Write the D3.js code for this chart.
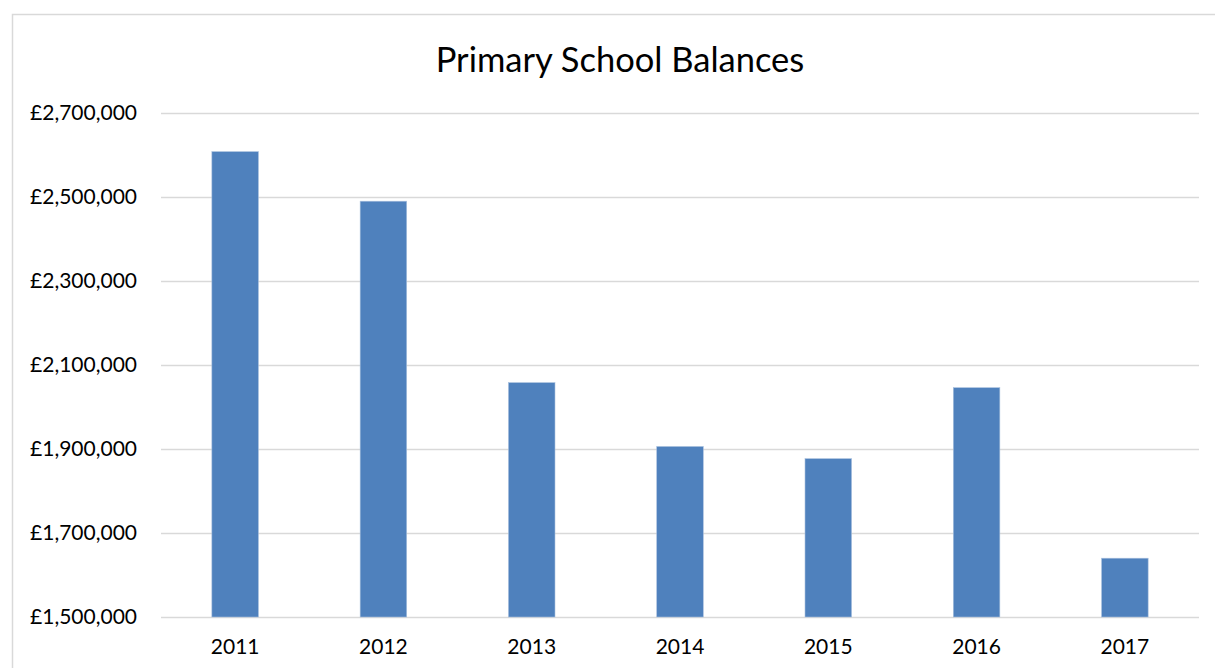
<!DOCTYPE html>
<html>
<head>
<meta charset="utf-8">
<script src="https://cdn.jsdelivr.net/npm/d3@7"></script>
<style>
  body { margin: 0; background: #fff; }
  svg { display: block; }
</style>
</head>
<body>
<svg id="chart"></svg>
<script>
// Primary School Balances
const years = ["2011", "2012", "2013", "2014", "2015", "2016", "2017"];
const balances = [2608000, 2490000, 2058000, 1906000, 1877000, 2046000, 1640000];
const yTicks = [1500000, 1700000, 1900000, 2100000, 2300000, 2500000, 2700000];

const W = 1215, H = 668;
const margin = { top: 113, right: 16, bottom: 51, left: 161 };
const width = W - margin.left - margin.right;
const height = H - margin.top - margin.bottom;
const font = "Lato, 'Open Sans', sans-serif";

const svg = d3.select("#chart").attr("width", W).attr("height", H);

// chart frame
svg.append("rect")
  .attr("x", 12.5).attr("y", 14.5)
  .attr("width", W + 20).attr("height", H + 20)
  .attr("fill", "none")
  .attr("stroke", "#d9d9d9")
  .attr("stroke-width", 1.5);

svg.append("text")
  .attr("x", 620).attr("y", 72)
  .attr("text-anchor", "middle")
  .style("font-family", font)
  .style("font-size", "34.5px")
  .style("fill", "#000")
  .text("Primary School Balances");

const g = svg.append("g").attr("transform", `translate(${margin.left},${margin.top})`);

const x = d3.scaleBand()
  .domain(years)
  .range([0, width])
  .paddingInner(0.686)
  .paddingOuter(0.343);

const y = d3.scaleLinear()
  .domain([1500000, 2700000])
  .range([height, 0]);

const fmt = (d) => "£" + d3.format(",")(d);

// grid
g.append("g")
  .attr("class", "grid")
  .call(d3.axisLeft(y).tickValues(yTicks).tickSize(-width).tickFormat(""))
  .call((s) => s.select(".domain").remove())
  .selectAll("line")
  .style("stroke", "#d9d9d9")
  .style("stroke-width", 1.5);

// y labels
g.append("g")
  .attr("class", "y-axis")
  .call(d3.axisLeft(y).tickValues(yTicks).tickSize(0).tickPadding(24).tickFormat(fmt))
  .call((s) => s.select(".domain").remove())
  .selectAll("text")
  .style("font-family", font)
  .style("font-size", "21px")
  .style("fill", "#000");

// bars
g.selectAll(".bar")
  .data(years.map((yr, i) => ({ yr, v: balances[i] })))
  .join("rect")
  .attr("class", "bar")
  .attr("x", (d) => x(d.yr))
  .attr("y", (d) => y(d.v))
  .attr("width", x.bandwidth())
  .attr("height", (d) => height - y(d.v))
  .attr("fill", "#4f81bd")
  .attr("stroke", "#a9c0de")
  .attr("stroke-width", 0.6);

// x labels
g.append("g")
  .attr("class", "x-axis")
  .attr("transform", `translate(0,${height})`)
  .call(d3.axisBottom(x).tickSize(0).tickPadding(22))
  .call((s) => s.select(".domain").remove())
  .selectAll("text")
  .style("font-family", font)
  .style("font-size", "21px")
  .style("fill", "#000");
</script>
</body>
</html>
